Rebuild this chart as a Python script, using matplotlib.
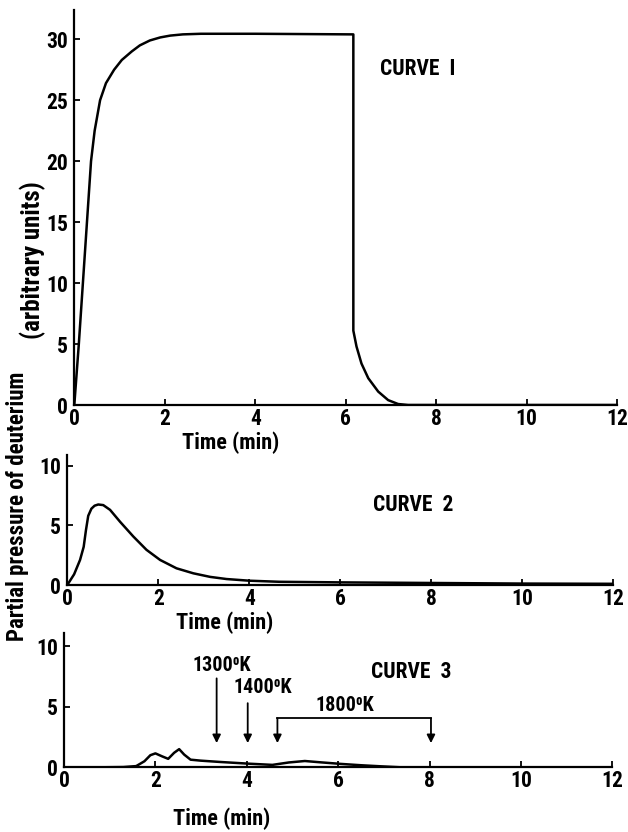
import numpy as np
import matplotlib
matplotlib.use('Agg')
import matplotlib.pyplot as plt
from matplotlib import font_manager

# narrow lettering if a condensed face is around, otherwise DejaVu
installed = {f.name for f in font_manager.fontManager.ttflist}
wanted = ['Roboto Condensed', 'Archivo Narrow', 'PT Sans Narrow',
          'Liberation Sans Narrow', 'Open Sans Condensed']
narrow = [n for n in wanted if n in installed][:1]
plt.rcParams['font.family'] = narrow + ['DejaVu Sans']
plt.rcParams['font.weight'] = 'bold'

# curve 1 (top panel)
curve1_t = [0, 0.03, 0.1, 0.19, 0.28, 0.37, 0.45, 0.57, 0.7, 0.88, 1.05, 1.27, 1.45,
            1.67, 1.9, 2.12, 2.4, 2.8, 4.0, 6.17, 6.17, 6.24, 6.35, 6.5, 6.72, 6.94,
            7.16, 7.38, 8.0, 10.0, 12.0]
curve1_v = [0, 1.5, 5, 10, 15, 20, 22.5, 25, 26.4, 27.5, 28.3, 29.0, 29.5,
            29.9, 30.15, 30.3, 30.4, 30.45, 30.45, 30.4, 6.1, 4.8, 3.4, 2.2, 1.1, 0.4,
            0.08, 0.0, 0.0, 0.0, 0.0]

# curve 2 (middle panel)
curve2_t = [0, 0.15, 0.28, 0.36, 0.41, 0.46, 0.53, 0.6, 0.68, 0.79, 0.94, 1.16, 1.45,
            1.74, 2.04, 2.4, 2.77, 3.14, 3.5, 4.0, 4.66, 6.0, 8.0, 10.0, 12.0]
curve2_v = [0, 0.9, 2.1, 3.2, 4.6, 5.8, 6.4, 6.65, 6.75, 6.7, 6.3, 5.3, 4.07,
            2.95, 2.1, 1.4, 0.98, 0.68, 0.5, 0.36, 0.27, 0.22, 0.17, 0.12, 0.1]

# curve 3 (bottom panel)
curve3_t = [0, 0.8, 1.3, 1.58, 1.76, 1.89, 2.0, 2.15, 2.28, 2.41, 2.52, 2.63, 2.77,
            2.99, 3.42, 4.04, 4.56, 4.92, 5.27, 5.62, 6.06, 6.5, 6.94, 7.37, 8.0, 10.0, 12.0]
curve3_v = [0, 0, 0.02, 0.1, 0.5, 1.0, 1.15, 0.9, 0.7, 1.2, 1.5, 1.05, 0.63,
            0.55, 0.44, 0.3, 0.2, 0.4, 0.52, 0.41, 0.28, 0.17, 0.08, 0.0, 0.0, 0.0, 0.0]

# temperature markers on curve 3: (label, time, arrow top, label x, label y)
single_marks = [('1300\u2070K', 3.34, 7.35, 3.45, 7.6),
                ('1400\u2070K', 4.02, 5.3, 4.35, 5.8)]
bracket_t = [4.67, 8.03]
bracket_top = 4.05
bracket_label = ('1800\u2070K', 6.15, 4.3)
arrow_tip = 2.0

x_ticks = [0, 2, 4, 6, 8, 10, 12]
tick_labels = ['0', '2', '4', '6', '8', '10', '12']

W, H = 628, 832
fig = plt.figure(figsize=(W / 100, H / 100), dpi=100)

def px_axes(x0, x1, y0, y1):
    # pixel box -> figure fraction
    return fig.add_axes([x0 / W, 1 - y0 / H, (x1 - x0) / W, (y0 - y1) / H])

ax1 = px_axes(74.3, 617, 405, 10)
ax2 = px_axes(67.3, 613.3, 585, 455)
ax3 = px_axes(64, 612.4, 767.3, 633)

panels = [
    (ax1, curve1_t, curve1_v, 32.4, [0, 5, 10, 15, 20, 25, 30], 'CURVE  I', 27.6, 26),
    (ax2, curve2_t, curve2_v, 10.9, [0, 5, 10], 'CURVE  2', 6.7, 26),
    (ax3, curve3_t, curve3_v, 11.1, [0, 5, 10], 'CURVE  3', 7.85, 40),
]

for ax, t, v, ytop, yt, name, name_y, lab_off in panels:
    ax.plot(t, v, color='black', lw=1.8, solid_joinstyle='round')
    ax.set_xlim(0, 12)
    ax.set_ylim(0, ytop)
    ax.set_xticks(x_ticks)
    ax.set_xticklabels(tick_labels)
    ax.set_yticks(yt)
    ax.spines['top'].set_visible(False)
    ax.spines['right'].set_visible(False)
    for s in ('left', 'bottom'):
        ax.spines[s].set_linewidth(1.6)
    ax.tick_params(direction='in', length=4.5, width=1.3, labelsize=15.5, pad=2)
    ax.tick_params(axis='y', pad=4.5)
    ax.set_xlabel('Time (min)', fontsize=16, fontweight='bold')
    ax.xaxis.set_label_coords(3.45 / 12, -lab_off / ax.bbox.height)
    ax.text(7.6, name_y, name, fontsize=15.5, ha='center', va='center')
    ax.patch.set_alpha(0)

# arrows on curve 3
for lab, t, top, lx, ly in single_marks:
    ax3.annotate('', xy=(t, arrow_tip), xytext=(t, top),
                 arrowprops=dict(arrowstyle='-|>', color='black', lw=1.3,
                                 mutation_scale=12, shrinkA=0, shrinkB=0))
    ax3.text(lx, ly, lab, fontsize=14.5, ha='center', va='bottom')

ax3.plot(bracket_t, [bracket_top, bracket_top], color='black', lw=1.3)
for t in bracket_t:
    ax3.annotate('', xy=(t, arrow_tip), xytext=(t, bracket_top),
                 arrowprops=dict(arrowstyle='-|>', color='black', lw=1.3,
                                 mutation_scale=12, shrinkA=0, shrinkB=0))
ax3.text(bracket_label[1], bracket_label[2], bracket_label[0], fontsize=14.5,
         ha='center', va='bottom')

fig.text(18 / W, 1 - 506 / H, 'Partial pressure of deuterium', rotation=90,
         ha='center', va='center', fontsize=16.5)
fig.text(33 / W, 1 - 260 / H, '(arbitrary units)', rotation=90,
         ha='center', va='center', fontsize=18)

fig.savefig('out.png', dpi=100)
